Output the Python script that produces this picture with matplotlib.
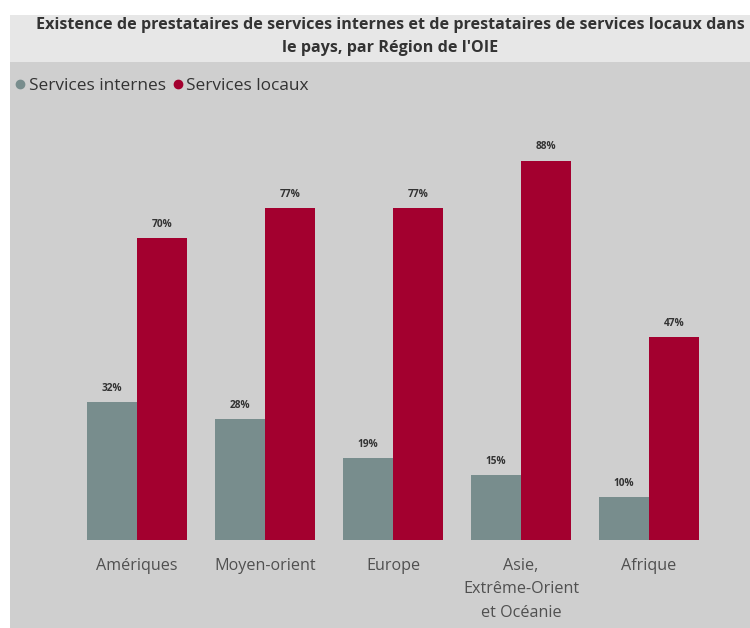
import numpy as np
import matplotlib
matplotlib.use('Agg')
from matplotlib import pyplot as plt
from matplotlib.lines import Line2D
from matplotlib.patches import Rectangle

# données par région de l'OIE
regions = ['Amériques', 'Moyen-orient', 'Europe', 'Asie,\nExtrême-Orient\net Océanie', 'Afrique']
internes = [32, 28, 19, 15, 10]
locaux = [70, 77, 77, 88, 47]

col_internes = '#788d8d'
col_locaux = '#a3002f'
texte = '#333333'

plt.rcParams['font.family'] = ['Open Sans', 'DejaVu Sans']

W, H = 750, 628
fig = plt.figure(figsize=(W / 100, H / 100), dpi=100)
fig.patch.set_facecolor('white')

# bandeau du titre et fond gris
fig.patches.append(Rectangle((10 / W, 0), 1, (H - 62) / H, transform=fig.transFigure,
                             facecolor='#cfcfcf', edgecolor='none', zorder=-2))
fig.patches.append(Rectangle((10 / W, (H - 62) / H), 1, 47 / H, transform=fig.transFigure,
                             facecolor='#e7e7e7', edgecolor='none', zorder=-2))

fig.text(390 / W, 1 - 25 / H, "Existence de prestataires de services internes et de prestataires de services locaux dans",
         ha='center', va='center', fontsize=11.6, fontweight='bold', color=texte)
fig.text(390 / W, 1 - 48 / H, "le pays, par Région de l'OIE",
         ha='center', va='center', fontsize=11.6, fontweight='bold', color=texte)

# axes : centre du premier groupe à 137 px, écart de 128 px
px_groupe = 128
ax = fig.add_axes([10 / W, (H - 540) / H, 740 / W, 440 / H])
ax.set_zorder(1)
ax.patch.set_alpha(0)
x = np.arange(len(regions))
w = 50 / px_groupe
b1 = ax.bar(x - w / 2, internes, w, color=col_internes, label='Services internes')
b2 = ax.bar(x + w / 2, locaux, w, color=col_locaux, label='Services locaux')

ax.set_xlim(-(137 - 10) / px_groupe, (750 - 137) / px_groupe)
ax.set_ylim(0, 440 / 4.31)

for barres, vals in ((b1, internes), (b2, locaux)):
    for r, v in zip(barres, vals):
        ax.annotate(f'{v}%', (r.get_x() + r.get_width() / 2, v), xytext=(0, 10),
                    textcoords='offset points', ha='center', va='center',
                    fontsize=7.3, fontweight='bold', color=texte)

ax.set_xticks(x)
ax.set_xticklabels(regions, fontsize=11.6, color='#505050', linespacing=1.62)
ax.tick_params(axis='x', length=0, pad=13)
ax.set_yticks([])
for s in ax.spines.values():
    s.set_visible(False)

# légende avec pastilles rondes
poignees = [Line2D([], [], marker='o', linestyle='none', markersize=6, color=col_internes),
            Line2D([], [], marker='o', linestyle='none', markersize=6, color=col_locaux)]
fig.legend(poignees, ['Services internes', 'Services locaux'], loc='center left',
           bbox_to_anchor=(15 / W, 1 - 86 / H), ncol=2, frameon=False, fontsize=12.4,
           handlelength=0.6, handletextpad=0.2, columnspacing=0.4, borderaxespad=0,
           borderpad=0, labelcolor=texte)

plt.savefig('out.png', dpi=100)
